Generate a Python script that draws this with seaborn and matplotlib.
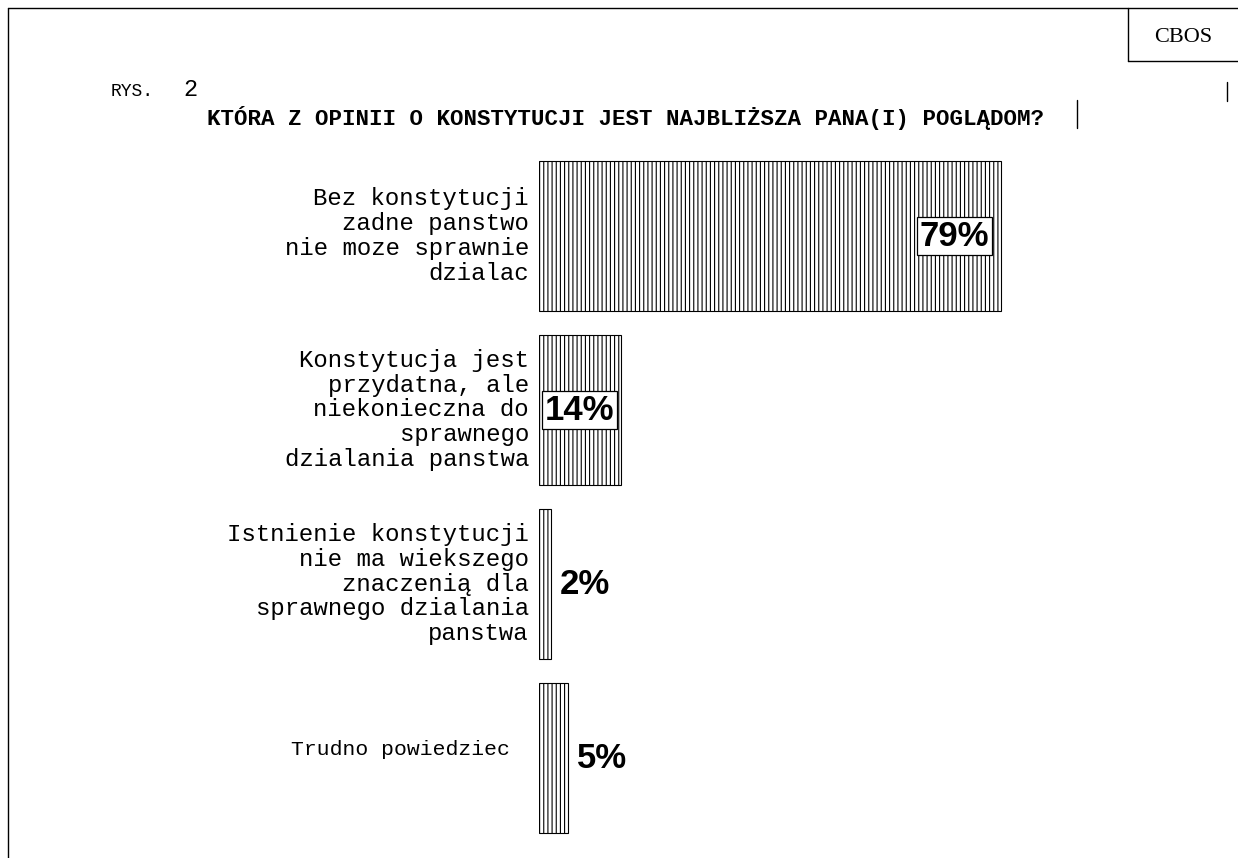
from matplotlib import pyplot as plt
from matplotlib.lines import Line2D
import seaborn as sns
import pandas as pd

# Chart data
categories = [
    'Bez konstytucji\nzadne panstwo\nnie moze sprawnie\ndzialac',
    'Konstytucja jest\nprzydatna, ale\nniekonieczna do\nsprawnego\ndzialania panstwa',
    'Istnienie konstytucji\nnie ma wiekszego\nznaczenią dla\nsprawnego dzialania\npanstwa',
    'Trudno powiedziec',
]
values = [79, 14, 2, 5]
title = 'KTÓRA Z OPINII O KONSTYTUCJI JEST NAJBLIŻSZA PANA(I) POGLĄDOM?'


def main():
    sns.set_style('white')
    plt.rcParams['hatch.linewidth'] = 0.8
    plt.rcParams['text.color'] = 'black'
    df = pd.DataFrame({'category': categories, 'value': values})

    fig = plt.figure(figsize=(12.38, 8.58), dpi=100)
    ax = fig.add_axes([539 / 1238, 13 / 858, 585 / 1238, 696 / 858])

    sns.barplot(data=df, x='value', y='category', orient='h', color='white',
                edgecolor='black', linewidth=0.8, width=0.862, ax=ax)
    for bar in ax.patches:
        bar.set_hatch('||||')

    ax.set_xlim(0, 100)
    ax.set_ylim(3.5, -0.5)
    ax.axis('off')

    # category labels on the left
    for i, (cat, val) in enumerate(zip(categories, values)):
        if i < 3:
            ax.text(-1.7, i, cat, ha='right', va='center', fontsize=17.3,
                    family='Liberation Mono', linespacing=1.1, color='black')
        else:
            ax.text(-5.0, i - 0.05, cat, ha='right', va='center', fontsize=15.4,
                    family='Liberation Mono', color='black')

    # value labels
    box = dict(facecolor='white', edgecolor='black', linewidth=0.9, pad=2)
    for i, val in enumerate(values):
        label = f'{val}%'
        kw = dict(va='center', fontsize=25, fontweight='bold',
                  family='Liberation Sans', color='black')
        if val > 50:
            ax.text(val - 2.1, i, label, ha='right', bbox=box, **kw)
        elif val > 10:
            ax.text(val / 2, i, label, ha='center', bbox=box, **kw)
        else:
            ax.text(val + 1.5, i, label, ha='left', **kw)

    # header texts
    fig.text(111 / 1238, 1 - 92 / 858, 'RYS.', fontsize=13, family='Liberation Mono',
             va='center', ha='left')
    fig.text(183 / 1238, 1 - 90 / 858, '2', fontsize=17, family='Liberation Mono',
             va='center', ha='left')
    fig.text(207 / 1238, 1 - 118 / 858, title, fontsize=16.2, fontweight='bold',
             family='Liberation Mono', va='center', ha='left')
    fig.text(1183 / 1238, 1 - 37 / 858, 'CBOS', fontsize=16,
             family='Liberation Serif', va='center', ha='center')

    # frame lines
    def line(x0, y0, x1, y1, lw=1.0):
        fig.add_artist(Line2D([x0 / 1238, x1 / 1238], [1 - y0 / 858, 1 - y1 / 858],
                              color='black', linewidth=lw, transform=fig.transFigure))

    line(8, 8, 1238, 8)
    line(8, 8, 8, 858)
    line(1128, 8, 1128, 61)
    line(1128, 61, 1238, 61)
    line(1077, 100, 1077, 128)
    line(1227, 82, 1227, 101)

    plt.savefig('out.png', dpi=100)
    plt.clf()


if __name__ == "__main__":
    main()
